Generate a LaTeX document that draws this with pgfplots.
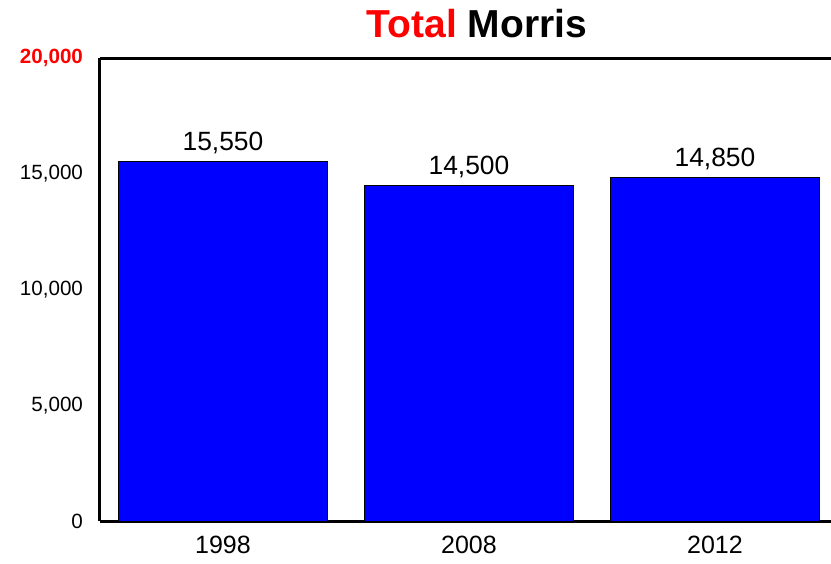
\documentclass[border=0pt]{standalone}
\usepackage{fontspec}
\setmainfont{Liberation Sans}
\usepackage{pgfplots}
\pgfplotsset{compat=1.18}
\definecolor{barBlue}{HTML}{0000FF}
\definecolor{titleRed}{HTML}{FF0000}
\begin{document}
\begin{tikzpicture}
\useasboundingbox (0,0) rectangle (415.5pt,281.5pt);
\begin{axis}[
    at={(50pt,21pt)}, anchor=south west,
    scale only axis, width=365.3pt, height=231.5pt,
    xmin=0.5, xmax=3.47, ymin=0, ymax=20000,
    axis x line*=bottom, axis y line*=left,
    axis line style={line width=1.5pt, -},
    scaled y ticks=false,
    xtick={1,2,3}, xticklabels={1998,2008,2012},
    ytick={0,5000,10000,15000,20000},
    yticklabels={0,{5,000},{10,000},{15,000},{\textcolor{titleRed}{\textbf{20,000}}}},
    major tick length=0pt,
    x tick label style={font=\fontsize{12.5}{14}\selectfont, yshift=-4pt},
    y tick label style={font=\fontsize{10.3}{12}\selectfont, xshift=-5pt},
    nodes near coords,
    nodes near coords style={font=\fontsize{13.2}{15}\selectfont, /pgf/number format/1000 sep={,}, /pgf/number format/assume math mode=true, yshift=0pt},
    clip=false,
]
\addplot[ybar, bar width=0.85, fill=barBlue, draw=black, line width=0.4pt] coordinates {(1,15550) (2,14500) (3,14850)};
\draw[line width=1.5pt] (rel axis cs:0,1) -- (rel axis cs:1,1);
\end{axis}
\node[font=\fontsize{19.5}{22}\selectfont\bfseries] at (238.5pt,269.5pt) {\textcolor{titleRed}{Total} Morris};
\end{tikzpicture}
\end{document}
